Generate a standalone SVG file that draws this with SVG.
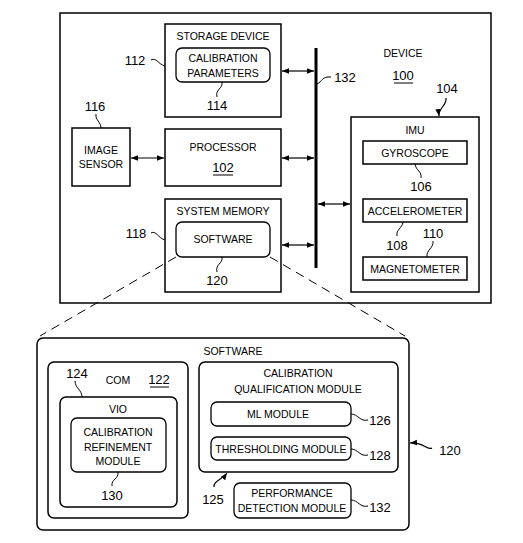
<svg xmlns="http://www.w3.org/2000/svg" width="523" height="543" viewBox="0 0 523 543">
<defs>
<marker id="ah" viewBox="0 0 10 10" refX="10" refY="5" markerWidth="7" markerHeight="7" orient="auto-start-reverse" markerUnits="userSpaceOnUse">
<path d="M0,1 L10,5 L0,9 Z" fill="#000"/>
</marker>
</defs>
<style>
.b{fill:#fff;stroke:#000;stroke-width:1.5}
.r{fill:#fff;stroke:#000;stroke-width:1.3}
.t{font-family:"Liberation Sans",Arial,sans-serif;font-size:10.5px;fill:#000;text-anchor:middle}
.n{font-family:"Liberation Sans",Arial,sans-serif;font-size:13px;fill:#000;text-anchor:middle}
.l{fill:none;stroke:#000;stroke-width:1}
.a{fill:none;stroke:#000;stroke-width:1.2}
.d{fill:none;stroke:#000;stroke-width:1;stroke-dasharray:9,6}
</style>
<rect width="523" height="543" fill="#fff"/>

<g id="device">
<rect class="b" x="60" y="13" width="431" height="290" stroke="#333"/>
<text class="t" x="403" y="57">DEVICE</text>
<text class="n" x="403" y="80">100</text>
<line class="l" x1="394" y1="83" x2="413" y2="83"/>
</g>

<g id="storage">
<rect class="b" x="165" y="24" width="116" height="93"/>
<text class="t" x="223" y="40">STORAGE DEVICE</text>
<text class="n" x="135" y="65">112</text>
<path class="l" d="M151,60 C156,57 158,64 165,66"/>
</g>
<g id="calparams">
<rect class="r" x="176" y="48" width="94" height="34" rx="6"/>
<text class="t" x="223" y="62">CALIBRATION</text>
<text class="t" x="223" y="77">PARAMETERS</text>
<text class="n" x="217" y="110">114</text>
<path class="l" d="M222,82 C223,89 215,89 217,97"/>
</g>

<g id="imagesensor">
<rect class="b" x="72" y="128" width="58" height="58"/>
<text class="t" x="101" y="154">IMAGE</text>
<text class="t" x="101" y="168">SENSOR</text>
<text class="n" x="95" y="111">116</text>
<path class="l" d="M96,114 C95,120 101,122 101,128"/>
</g>

<g id="processor">
<rect class="b" x="165" y="129" width="116" height="57"/>
<text class="t" x="223" y="151">PROCESSOR</text>
<text class="n" x="223" y="172">102</text>
<line class="l" x1="213" y1="175" x2="233" y2="175"/>
</g>

<g id="sysmem">
<rect class="b" x="165" y="199" width="116" height="93"/>
<text class="t" x="223" y="215">SYSTEM MEMORY</text>
<text class="n" x="136" y="238">118</text>
<path class="l" d="M151,233 C156,230 158,238 165,240"/>
</g>
<g id="software-small">
<rect class="r" x="176" y="222" width="94" height="35" rx="6"/>
<text class="t" x="223" y="243">SOFTWARE</text>
<text class="n" x="217" y="285">120</text>
<path class="l" d="M222,257 C223,264 215,264 217,272"/>
</g>

<g id="imu">
<rect class="b" x="351" y="117" width="128" height="175"/>
<text class="t" x="415" y="134">IMU</text>
<text class="n" x="447" y="93">104</text>
</g>
<g id="gyroscope">
<rect class="b" x="363" y="141" width="104" height="23"/>
<text class="t" x="415" y="157">GYROSCOPE</text>
<text class="n" x="421" y="191">106</text>
<path class="l" d="M415,164 C416,171 422,171 421,178"/>
</g>
<g id="accelerometer">
<rect class="b" x="363" y="199" width="104" height="23"/>
<text class="t" x="415" y="215">ACCELEROMETER</text>
<text class="n" x="397" y="250">108</text>
<path class="l" d="M403,222 C402,229 396,229 397,236"/>
</g>
<g id="magnetometer">
<rect class="b" x="363" y="257" width="104" height="23"/>
<text class="t" x="415" y="273">MAGNETOMETER</text>
<text class="n" x="433" y="238">110</text>
<path class="l" d="M433,241 C434,248 426,250 427,257"/>
</g>

<g id="bus">
<line x1="316" y1="48" x2="316" y2="268" stroke="#000" stroke-width="3"/>
<text class="n" x="345" y="82">132</text>
<path class="l" d="M317,84 C322,82 322,76 331,77"/>
</g>

<g id="software-large">
<rect class="b" x="37" y="338" width="372" height="192" rx="6"/>
<text class="t" x="233" y="355">SOFTWARE</text>
<text class="n" x="450" y="455">120</text>
</g>
<g id="com">
<rect class="b" x="48" y="362" width="140" height="156" rx="6"/>
<text class="n" x="77" y="378">124</text>
<text class="t" x="118" y="384">COM</text>
<text class="n" x="159" y="384">122</text>
<line class="l" x1="150" y1="387" x2="169" y2="387"/>
<path class="l" d="M75,381 C75,388 82,390 82,397"/>
</g>
<g id="vio">
<rect class="b" x="60" y="397" width="117" height="110" rx="6"/>
<text class="t" x="118" y="413">VIO</text>
</g>
<g id="calrefine">
<rect class="r" x="71" y="418" width="95" height="54" rx="6"/>
<text class="t" x="118" y="436">CALIBRATION</text>
<text class="t" x="118" y="451">REFINEMENT</text>
<text class="t" x="118" y="465">MODULE</text>
<text class="n" x="112" y="500">130</text>
<path class="l" d="M118,472 C119,479 111,479 112,486"/>
</g>
<g id="calqual">
<rect class="b" x="199" y="362" width="199" height="110" rx="6"/>
<text class="t" x="298" y="377">CALIBRATION</text>
<text class="t" x="298" y="393">QUALIFICATION MODULE</text>
<text class="n" x="213" y="504">125</text>
</g>
<g id="mlmodule">
<rect class="r" x="211" y="402" width="140" height="24" rx="6"/>
<text class="t" x="278" y="418">ML MODULE</text>
<text class="n" x="380" y="425">126</text>
<path class="l" d="M351,414 C358,414 360,422 368,420"/>
</g>
<g id="thresholding">
<rect class="r" x="211" y="437" width="140" height="23" rx="6"/>
<text class="t" x="281" y="453">THRESHOLDING MODULE</text>
<text class="n" x="380" y="460">128</text>
<path class="l" d="M351,449 C358,449 360,457 368,455"/>
</g>
<g id="perfdetect">
<rect class="r" x="234" y="483" width="117" height="35" rx="6"/>
<text class="t" x="292" y="497">PERFORMANCE</text>
<text class="t" x="292" y="512">DETECTION MODULE</text>
<text class="n" x="380" y="512">132</text>
<path class="l" d="M351,500 C358,500 360,508 368,506"/>
</g>

<g id="connectors">
<line class="a" x1="282" y1="71" x2="314" y2="71" marker-start="url(#ah)" marker-end="url(#ah)"/>
<line class="a" x1="131" y1="158" x2="164" y2="158" marker-start="url(#ah)" marker-end="url(#ah)"/>
<line class="a" x1="282" y1="158" x2="314" y2="158" marker-start="url(#ah)" marker-end="url(#ah)"/>
<line class="a" x1="282" y1="245" x2="314" y2="245" marker-start="url(#ah)" marker-end="url(#ah)"/>
<line class="a" x1="318" y1="204" x2="350" y2="204" marker-start="url(#ah)" marker-end="url(#ah)"/>
<path class="a" d="M446,98 C447,106 438,108 439,116" marker-end="url(#ah)"/>
<path class="a" d="M214,487 C213,481 222,480 227,473" marker-end="url(#ah)"/>
<path class="a" d="M432,448 C428,451 424,442 410,443" marker-end="url(#ah)"/>
<line class="d" x1="176" y1="257" x2="40" y2="336"/>
<line class="d" x1="270" y1="257" x2="405" y2="336"/>
</g>
</svg>
